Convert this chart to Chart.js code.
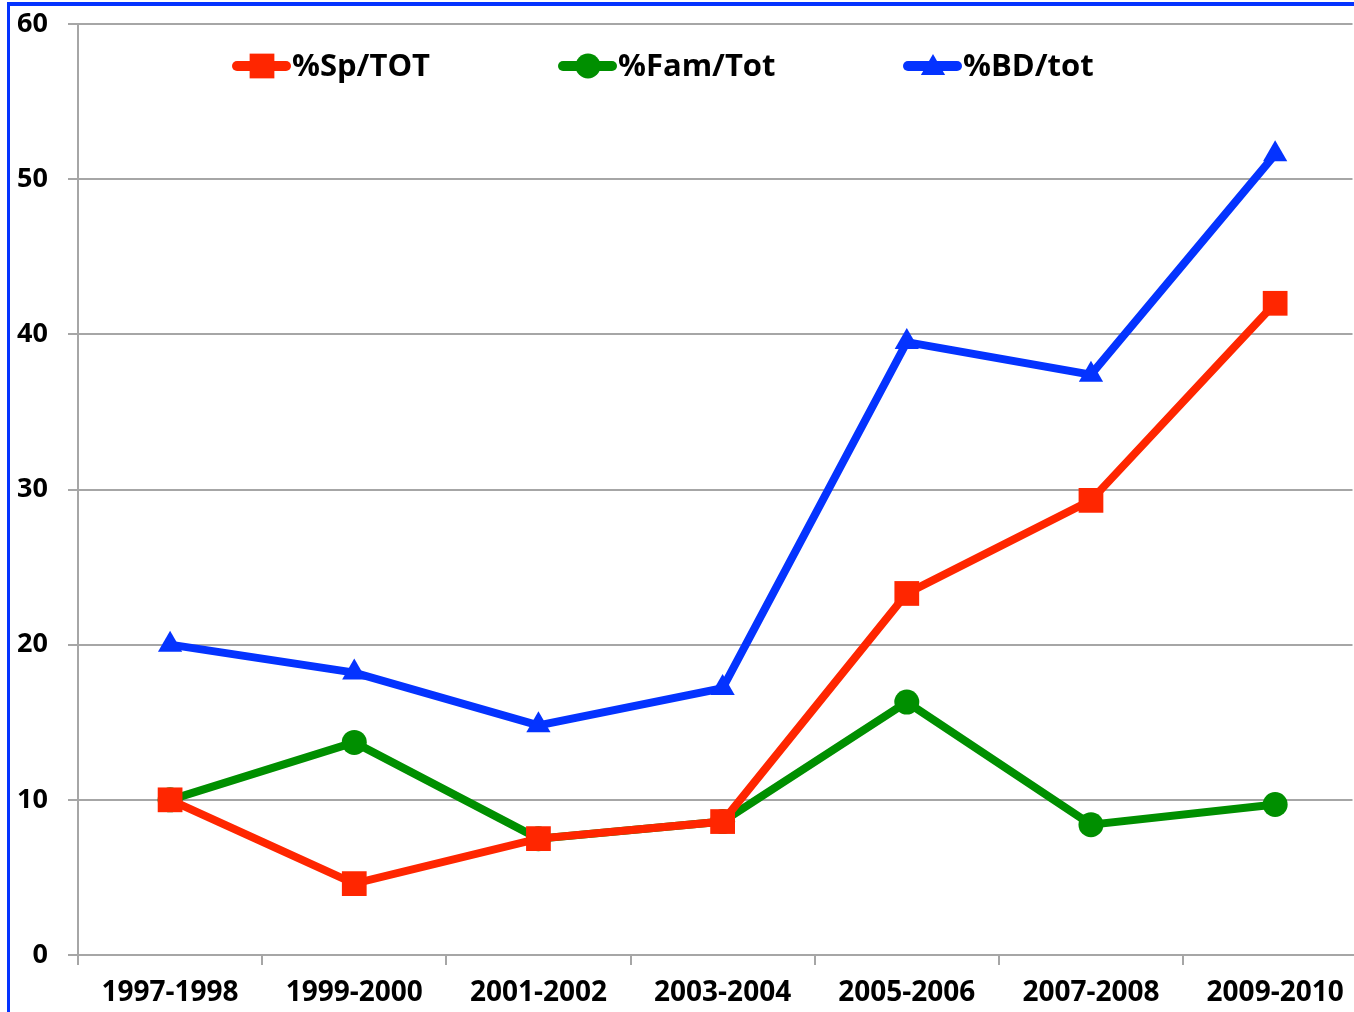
<!DOCTYPE html>
<html>
<head>
<meta charset="utf-8">
<script src="https://cdn.jsdelivr.net/npm/chart.js@4"></script>
<style>
html,body{margin:0;padding:0;background:#fff;overflow:hidden;width:1354px;height:1012px;}
#wrap{position:absolute;left:0;top:0;width:1370px;height:1012px;}
#frame{position:absolute;left:7px;top:2px;width:1360px;height:1020px;border-left:3px solid #0433ff;border-top:4px solid #0433ff;pointer-events:none;}
</style>
</head>
<body>
<div id="wrap"><canvas id="c" width="1370" height="1012"></canvas></div>
<div id="frame"></div>
<script>
const categories = ['1997-1998','1999-2000','2001-2002','2003-2004','2005-2006','2007-2008','2009-2010'];
const spTot  = [10, 4.6, 7.5, 8.6, 23.3, 29.3, 42];
const famTot = [10, 13.7, 7.5, 8.6, 16.3, 8.4, 9.7];
const bdTot  = [20, 18.2, 14.8, 17.2, 39.5, 37.4, 51.6];
const seriesNames = ['%Sp/TOT', '%Fam/Tot', '%BD/tot'];
const yMin = 0, yMax = 60, yStep = 10;

const RED = '#ff2600', GREEN = '#008f00', BLUE = '#0433ff';
const FONT = '"Open Sans", sans-serif';
// the plot is cropped on the right: only ~6.92 of the 7 category slots are visible
const VISIBLE_CATEGORY_SPAN = 6.92;

const legendItems = [
  {name: seriesNames[0], color: RED, style: 'rect', radius: 17.5, x: 232},
  {name: seriesNames[1], color: GREEN, style: 'circle', radius: 12.5, x: 558},
  {name: seriesNames[2], color: BLUE, style: 'triangle', radius: 14, x: 903}
];

const legendPlugin = {
  id: 'customLegend',
  afterDraw(chart) {
    const ctx = chart.ctx;
    const y = 66;
    ctx.save();
    legendItems.forEach(it => {
      ctx.strokeStyle = it.color;
      ctx.lineWidth = 10;
      ctx.lineCap = 'round';
      ctx.beginPath();
      ctx.moveTo(it.x + 5, y);
      ctx.lineTo(it.x + 54, y);
      ctx.stroke();
      ctx.fillStyle = it.color;
      Chart.helpers.drawPoint(ctx, {pointStyle: it.style, radius: it.radius, borderWidth: 0}, it.x + 30, y + (it.style === 'triangle' ? 2 : 0));
      ctx.fillStyle = '#000';
      ctx.font = 'bold 31px ' + FONT;
      ctx.textBaseline = 'middle';
      ctx.textAlign = 'left';
      ctx.fillText(it.name, it.x + 60, y + 1);
    });
    ctx.restore();
  }
};

function ds(label, data, color, style, r) {
  return {
    label, data,
    borderColor: color, backgroundColor: color,
    borderWidth: 8,
    pointStyle: style, pointRadius: r, pointHoverRadius: r,
    pointBorderWidth: 0,
    pointBackgroundColor: color,
    tension: 0,
    clip: false
  };
}

new Chart(document.getElementById('c'), {
  type: 'line',
  data: {
    labels: categories,
    datasets: [
      ds(seriesNames[0], spTot, RED, 'rect', 17.5),
      ds(seriesNames[2], bdTot, BLUE, 'triangle', 14),
      ds(seriesNames[1], famTot, GREEN, 'circle', 12.5)
    ]
  },
  options: {
    responsive: false,
    animation: false,
    layout: {padding: {top: 24, right: 0, left: 0, bottom: 0}},
    plugins: {legend: {display: false}, tooltip: {enabled: false}},
    scales: {
      x: {
        offset: true,
        grid: {offset: true, drawOnChartArea: false, drawTicks: true, tickLength: 10, color: '#a6a6a6', lineWidth: 2},
        border: {color: '#a6a6a6', width: 2},
        ticks: {color: '#000', font: {family: FONT, size: 28, weight: 'bold'}, padding: 11, maxRotation: 0, autoSkip: false},
        afterBuildTicks(s) { s._valueRange = VISIBLE_CATEGORY_SPAN; },
        afterFit(s) { s.height = 57; s.paddingLeft = 0; s.paddingRight = 0; }
      },
      y: {
        min: yMin, max: yMax,
        grid: {color: '#a6a6a6', lineWidth: 2, tickLength: 10},
        border: {color: '#a6a6a6', width: 2},
        ticks: {stepSize: yStep, color: '#000', font: {family: FONT, size: 27, weight: 'bold'}, padding: 20},
        afterFit(s) { s.width = 78; s.paddingTop = 0; s.paddingBottom = 0; }
      }
    }
  },
  plugins: [legendPlugin]
});
</script>
</body>
</html>
